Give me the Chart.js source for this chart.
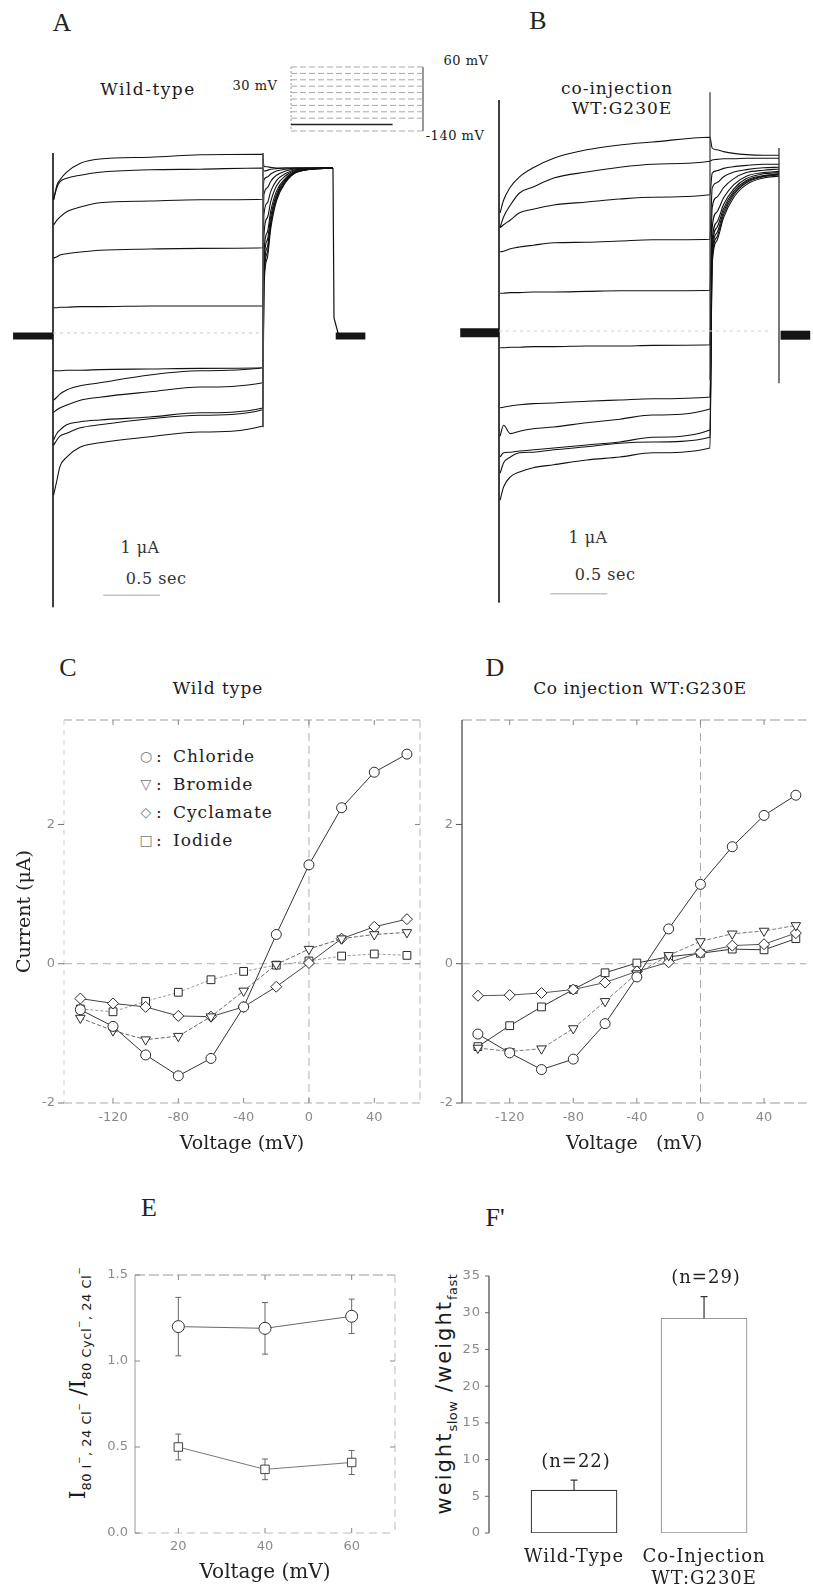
<!DOCTYPE html>
<html><head><meta charset="utf-8">
<script src="https://cdn.jsdelivr.net/npm/chart.js@4.4.1/dist/chart.umd.min.js"></script>
<style>
html,body{margin:0;padding:0;background:#fff}
body{position:relative;width:813px;height:1591px;overflow:hidden}
canvas{position:absolute}
.t{position:absolute;transform:translate(-50%,-50%);white-space:nowrap;font-family:"DejaVu Serif",serif;color:#1a1a1a;line-height:1}
.pl{font-family:"Liberation Serif",serif;font-size:26px;color:#222}
.ti{font-size:17px;letter-spacing:1px}
.sm{font-size:13px;letter-spacing:0.5px}
.sc{font-size:16px;letter-spacing:0.5px;color:#333}
.lg{position:absolute;transform:translateY(-50%);white-space:nowrap;font-family:"DejaVu Serif",serif;font-size:17px;letter-spacing:1px;color:#222;line-height:1}
.sym{position:absolute;transform:translate(-50%,-50%);font-family:"DejaVu Sans",sans-serif;font-size:14px;color:#777;line-height:1}
.rot{transform:translate(-50%,-50%) rotate(-90deg)}
.sb{font-family:"DejaVu Sans",sans-serif;font-size:13px;vertical-align:-6px;letter-spacing:0.5px}
.sb sup{font-size:9px;vertical-align:9px}
</style></head><body>

<div class="t pl" style="left:62px;top:23px">A</div>
<div class="t pl" style="left:538px;top:21px">B</div>
<div class="t ti" style="left:148px;top:89px;letter-spacing:1.5px">Wild-type</div>
<div class="t sm" style="left:255px;top:85px">30 mV</div>
<div class="t sm" style="left:466px;top:60px">60 mV</div>
<div class="t sm" style="left:455px;top:135px">-140 mV</div>
<div class="t ti" style="left:617px;top:88px">co-injection</div>
<div class="t ti" style="left:622px;top:108px">WT:G230E</div>
<div class="t sc" style="left:140px;top:548px">1 μA</div>
<div class="t sc" style="left:156px;top:579px">0.5 sec</div>
<div class="t sc" style="left:588px;top:538px">1 μA</div>
<div class="t sc" style="left:605px;top:575px">0.5 sec</div>

<div class="t pl" style="left:68px;top:668px">C</div>
<div class="t ti" style="left:218px;top:688px">Wild type</div>
<div class="t pl" style="left:495px;top:668px">D</div>
<div class="t ti" style="left:640px;top:688px;letter-spacing:0.6px">Co injection WT:G230E</div>

<div class="sym" style="left:146px;top:756px">○</div><div class="lg" style="left:156px;top:756px">:</div><div class="lg" style="left:173px;top:756px">Chloride</div>
<div class="sym" style="left:146px;top:784px">▽</div><div class="lg" style="left:156px;top:784px">:</div><div class="lg" style="left:173px;top:784px">Bromide</div>
<div class="sym" style="left:146px;top:812px">◇</div><div class="lg" style="left:156px;top:812px">:</div><div class="lg" style="left:173px;top:812px">Cyclamate</div>
<div class="sym" style="left:146px;top:840px">□</div><div class="lg" style="left:156px;top:840px">:</div><div class="lg" style="left:173px;top:840px">Iodide</div>

<div class="t pl" style="left:149px;top:1208px">E</div>
<div class="t pl" style="left:495px;top:1218px">F'</div>
<div class="t rot" style="left:80px;top:1383px;font-size:22px">I<span class="sb">80 I<sup>−</sup>, 24 Cl<sup>−</sup></span> /I<span class="sb">80 Cycl<sup>−</sup>, 24 Cl<sup>−</sup></span></div>
<div class="t rot" style="left:446px;top:1394px;font-size:21px;letter-spacing:2px;font-family:'DejaVu Sans',sans-serif">weight<span class="sb">slow</span> /weight<span class="sb">fast</span></div>

<script>
// ================= DATA =================
// Panels A/B: voltage steps (mV) of the family of current traces
const stepVoltages = [60, 40, 20, 0, -20, -40, -60, -80, -100, -120, -140];

// Panel A (wild-type): time (s) and current (µA)
const wtPulseTimes = [0.005, 0.035, 0.06, 0.12, 0.24, 0.41, 0.85, 1.29, 1.84];
const wtPulseCurrents = [
  [2.27, 2.52, 2.60, 2.73, 2.88, 2.95, 2.98, 3.02, 3.03],
  [2.27, 2.48, 2.57, 2.63, 2.68, 2.73, 2.77, 2.78, 2.80],
  [1.85, 1.93, 1.98, 2.07, 2.15, 2.22, 2.25, 2.27, 2.28],
  [1.30, 1.32, 1.35, 1.37, 1.40, 1.43, 1.45, 1.46, 1.47],
  [0.47, 0.47, 0.48, 0.48, 0.49, 0.49, 0.50, 0.50, 0.50],
  [-0.58, -0.58, -0.58, -0.57, -0.57, -0.56, -0.55, -0.54, -0.53],
  [-1.07, -1.02, -0.97, -0.90, -0.83, -0.78, -0.65, -0.58, -0.53],
  [-1.27, -1.23, -1.20, -1.15, -1.07, -1.02, -0.93, -0.85, -0.78],
  [-1.73, -1.62, -1.57, -1.48, -1.43, -1.40, -1.35, -1.28, -1.20],
  [-1.82, -1.73, -1.67, -1.62, -1.53, -1.48, -1.38, -1.32, -1.23],
  [-2.65, -2.40, -2.18, -2.02, -1.85, -1.78, -1.68, -1.60, -1.50]
];
const wtTailTimes = [1.85, 1.88, 1.91, 1.96, 2.04, 2.15, 2.456];
const wtTailCurrents = [
  [2.83, 2.82, 2.81, 2.80, 2.80, 2.80, 2.80],
  [2.75, 2.76, 2.78, 2.79, 2.80, 2.80, 2.80],
  [2.60, 2.65, 2.70, 2.75, 2.78, 2.80, 2.80],
  [2.35, 2.47, 2.58, 2.68, 2.75, 2.79, 2.80],
  [2.02, 2.22, 2.41, 2.59, 2.71, 2.78, 2.80],
  [1.68, 1.97, 2.24, 2.50, 2.67, 2.77, 2.80],
  [1.35, 1.73, 2.08, 2.41, 2.63, 2.76, 2.80],
  [1.18, 1.60, 1.99, 2.36, 2.61, 2.75, 2.80],
  [1.02, 1.48, 1.91, 2.32, 2.59, 2.75, 2.80],
  [0.90, 1.39, 1.85, 2.29, 2.57, 2.74, 2.80],
  [0.77, 1.30, 1.79, 2.25, 2.56, 2.74, 2.80]
];
const wtHoldTimes = [-0.35, 0];
const wtPostTimes = [2.48, 2.74];
const wtOnTransient = [3.05, -4.52];
const wtOffTransient = [3.05, -1.52];
const wtReturnTimes = [2.456, 2.465, 2.5, 2.55];
const wtReturnCurrents = [2.80, 0.30, 0.05, 0];

// Panel B (co-injection WT:G230E)
const coPulseTimes = [0.01, 0.04, 0.10, 0.18, 0.30, 0.48, 0.77, 1.06, 1.35, 1.85];
const coPulseCurrents = [
  [2.02, 2.23, 2.45, 2.62, 2.77, 2.93, 3.07, 3.15, 3.20, 3.28],
  [1.78, 1.95, 2.15, 2.35, 2.45, 2.60, 2.70, 2.78, 2.83, 2.88],
  [1.77, 1.82, 1.90, 2.02, 2.08, 2.15, 2.20, 2.25, 2.28, 2.32],
  [1.37, 1.38, 1.42, 1.45, 1.48, 1.52, 1.53, 1.55, 1.57, 1.58],
  [0.68, 0.68, 0.69, 0.69, 0.70, 0.70, 0.71, 0.72, 0.72, 0.73],
  [-0.23, -0.23, -0.22, -0.22, -0.21, -0.21, -0.20, -0.20, -0.19, -0.18],
  [-1.23, -1.22, -1.20, -1.18, -1.16, -1.15, -1.12, -1.10, -1.08, -1.05],
  [-1.70, -1.52, -1.66, -1.62, -1.58, -1.55, -1.48, -1.42, -1.35, -1.25],
  [-2.05, -1.98, -1.97, -1.95, -1.93, -1.90, -1.85, -1.80, -1.72, -1.60],
  [-2.32, -2.15, -2.05, -1.98, -1.97, -1.93, -1.88, -1.82, -1.80, -1.72],
  [-2.77, -2.55, -2.38, -2.30, -2.23, -2.18, -2.10, -2.05, -1.98, -1.90]
];
const coTailTimes = [1.87, 1.91, 1.97, 2.06, 2.17, 2.32, 2.456];
const coTailCurrents = [
  [3.10, 3.07, 3.04, 3.01, 2.99, 2.98, 2.98],
  [2.90, 2.91, 2.92, 2.92, 2.93, 2.93, 2.93],
  [2.68, 2.72, 2.76, 2.79, 2.81, 2.83, 2.83],
  [2.43, 2.52, 2.62, 2.70, 2.74, 2.77, 2.78],
  [2.10, 2.28, 2.44, 2.59, 2.69, 2.73, 2.75],
  [1.77, 2.03, 2.27, 2.49, 2.63, 2.69, 2.71],
  [1.55, 1.86, 2.16, 2.42, 2.59, 2.67, 2.69],
  [1.43, 1.77, 2.09, 2.38, 2.56, 2.64, 2.67],
  [1.32, 1.68, 2.04, 2.35, 2.54, 2.63, 2.66],
  [1.23, 1.61, 1.99, 2.32, 2.52, 2.62, 2.65],
  [1.15, 1.55, 1.94, 2.28, 2.49, 2.60, 2.63]
];
const coHoldTimes = [-0.34, 0];
const coPostTimes = [2.47, 2.73];
const coOnTransient = [3.90, -4.48];
const coOffTransient = [4.03, -0.77];
const coReturnTransient = [3.10, -0.82];
const scaleBarTimes = [0.44, 0.94];

// Voltage protocol inset (mV)
const protocolLevels = [60, 40, 20, 0, -20, -40, -60, -80, -100, -120, -140];

// Panels C/D: I-V curves (mV, µA)
const ivVoltages = [-140, -120, -100, -80, -60, -40, -20, 0, 20, 40, 60];
const ivTicksX = [-120, -80, -40, 0, 40];
const ivTicksY = [-2, 0, 2];
const wtChloride  = [-0.66, -0.90, -1.31, -1.61, -1.36, -0.62, 0.42, 1.42, 2.24, 2.75, 3.01];
const wtBromide   = [-0.78, -0.96, -1.09, -1.04, -0.76, -0.39, -0.01, 0.21, 0.36, 0.42, 0.45];
const wtCyclamate = [-0.50, -0.57, -0.62, -0.75, -0.76, -0.62, -0.33, 0.01, 0.36, 0.53, 0.64];
const wtIodide    = [-0.65, -0.69, -0.54, -0.41, -0.23, -0.11, -0.02, 0.04, 0.11, 0.14, 0.12];
const coChloride  = [-1.01, -1.28, -1.52, -1.37, -0.86, -0.19, 0.50, 1.14, 1.68, 2.13, 2.42];
const coBromide   = [-1.21, -1.26, -1.22, -0.93, -0.54, -0.14, 0.12, 0.32, 0.43, 0.47, 0.55];
const coCyclamate = [-0.46, -0.45, -0.42, -0.37, -0.27, -0.11, 0.02, 0.16, 0.26, 0.28, 0.44];
const coIodide    = [-1.19, -0.89, -0.62, -0.37, -0.13, 0.01, 0.10, 0.15, 0.21, 0.20, 0.36];

// Panel E: current ratios
const ratioVoltages = [20, 40, 60];
const ratioChloride = [1.20, 1.19, 1.26];
const ratioChlorideErr = [0.17, 0.15, 0.10];
const ratioIodide = [0.50, 0.37, 0.41];
const ratioIodideErr = [0.075, 0.06, 0.07];
const ratioTicksY = [0, 0.5, 1.0, 1.5];

// Panel F: weight ratio
const groupIndex = [1, 2];
const groupLabels = [['Wild-Type'], ['Co-Injection', 'WT:G230E']];
const weightRatio = [5.85, 29.25];
const weightRatioErr = [1.35, 2.95];
const groupN = ['(n=22)', '(n=29)'];
const weightTicks = [0, 5, 10, 15, 20, 25, 30, 35];

// ================= SETUP =================
const SERIF = '"DejaVu Serif", serif';
const SANS = '"DejaVu Sans", "Liberation Sans", sans-serif';
Chart.defaults.animation = false;
Chart.defaults.responsive = false;
Chart.defaults.maintainAspectRatio = false;
Chart.defaults.devicePixelRatio = 1;
Chart.defaults.plugins.legend.display = false;
Chart.defaults.plugins.tooltip.enabled = false;
Chart.defaults.font.family = SANS;

function mkCanvas(left, top, w, h) {
  const c = document.createElement('canvas');
  c.width = w; c.height = h;
  Object.assign(c.style, {left: left + 'px', top: top + 'px', width: w + 'px', height: h + 'px'});
  document.body.appendChild(c);
  return c;
}

const framePlugin = {
  id: 'frame',
  beforeDraw(chart, args, o) {
    if (o && o.letterSpacing) chart.ctx.letterSpacing = o.letterSpacing;
  },
  beforeDatasetsDraw(chart, args, o) {
    if (!o || !o.sides) return;
    const {ctx, chartArea: a} = chart;
    const xs = chart.scales.x, ys = chart.scales.y;
    ctx.save();
    const line = (x1, y1, x2, y2, st) => {
      ctx.beginPath(); ctx.strokeStyle = st.color; ctx.lineWidth = st.width || 1;
      ctx.setLineDash(st.dash || []); ctx.moveTo(x1, y1); ctx.lineTo(x2, y2); ctx.stroke();
    };
    const s = o.sides;
    if (s.top) line(a.left, a.top, a.right, a.top, s.top);
    if (s.bottom) line(a.left, a.bottom, a.right, a.bottom, s.bottom);
    if (s.left) line(a.left, a.top, a.left, a.bottom, s.left);
    if (s.right) line(a.right, a.top, a.right, a.bottom, s.right);
    if (o.zeroX) { const p = xs.getPixelForValue(0); line(p, a.top, p, a.bottom, o.zeroX); }
    if (o.zeroY) { const p = ys.getPixelForValue(0); line(a.left, p, a.right, p, o.zeroY); }
    (o.ticks || []).forEach(t => t.values.forEach(v => {
      if (t.edge === 'left') { const p = ys.getPixelForValue(v); line(a.left, p, a.left + t.len, p, t); }
      if (t.edge === 'right') { const p = ys.getPixelForValue(v); line(a.right, p, a.right - t.len, p, t); }
      if (t.edge === 'top') { const p = xs.getPixelForValue(v); line(p, a.top, p, a.top + t.len, t); }
      if (t.edge === 'bottom') { const p = xs.getPixelForValue(v); line(p, a.bottom, p, a.bottom - t.len, t); }
    }));
    ctx.restore();
  }
};

function drawErr(chart, after) {
  const ys = chart.scales.y, ctx = chart.ctx;
  chart.data.datasets.forEach((ds, i) => {
    if (!ds.errors || (!!ds.errAfter) !== after) return;
    const meta = chart.getDatasetMeta(i);
    ctx.save();
    ctx.strokeStyle = ds.errColor || '#555'; ctx.lineWidth = ds.errWidth || 1; ctx.setLineDash([]);
    meta.data.forEach((el, j) => {
      const v = ds.data[j].y, e = ds.errors[j];
      const top = ys.getPixelForValue(v + e);
      const bot = ys.getPixelForValue(ds.errUpOnly ? v : v - e);
      const c = ds.errCap || 3;
      ctx.beginPath();
      ctx.moveTo(el.x, top); ctx.lineTo(el.x, bot);
      ctx.moveTo(el.x - c, top); ctx.lineTo(el.x + c, top);
      if (!ds.errUpOnly) { ctx.moveTo(el.x - c, bot); ctx.lineTo(el.x + c, bot); }
      ctx.stroke();
    });
    ctx.restore();
  });
}
const errPlugin = {
  id: 'errbars',
  beforeDatasetsDraw(chart) { drawErr(chart, false); },
  afterDatasetsDraw(chart) { drawErr(chart, true); }
};

const nLabelPlugin = {
  id: 'nlabels',
  afterDatasetsDraw(chart, args, o) {
    if (!o || !o.labels) return;
    const ctx = chart.ctx, ds = chart.data.datasets[0], meta = chart.getDatasetMeta(0), ys = chart.scales.y;
    ctx.save();
    ctx.font = o.font; ctx.fillStyle = o.color; ctx.textAlign = 'center'; ctx.textBaseline = 'middle';
    meta.data.forEach((el, j) => {
      const v = ds.data[j].y + (ds.errors ? ds.errors[j] : 0);
      ctx.fillText(o.labels[j], el.x + (o.dx || 0), ys.getPixelForValue(v) - o.offset);
    });
    ctx.restore();
  }
};
Chart.register(framePlugin, errPlugin, nLabelPlugin);

// ================= PANELS A / B =================
function seg(xs, ys, color, width, dash) {
  return {data: xs.map((x, i) => ({x, y: ys[i]})), showLine: true, borderColor: color,
          borderWidth: width, borderDash: dash || [], pointRadius: 0, tension: 0};
}
function traceSets(pT, pI, tT, tI) {
  return pI.map((row, i) => ({
    label: stepVoltages[i] + ' mV',
    data: pT.map((t, j) => ({x: t, y: row[j]})).concat(tT.map((t, j) => ({x: t, y: tI[i][j]}))),
    showLine: true, borderColor: '#111', borderWidth: 1.1, pointRadius: 0,
    cubicInterpolationMode: 'monotone'
  }));
}
function traceChart(canvas, xr, yr, datasets) {
  return new Chart(canvas, {
    type: 'scatter', data: {datasets},
    options: {
      layout: {padding: 0},
      scales: {x: {type: 'linear', display: false, min: xr[0], max: xr[1]},
               y: {type: 'linear', display: false, min: yr[0], max: yr[1]}}
    }
  });
}

traceChart(mkCanvas(0, 80, 410, 540), [-0.4649, 3.1316], [-4.7333, 4.2667], [
  seg(wtHoldTimes, [0, 0], '#151515', 7),
  seg([0, 1.84], [0.05, 0.05], '#c8c8c8', 1, [3, 4]),
  seg([0, 0], wtOnTransient, '#111', 1.6),
  seg([1.842, 1.842], wtOffTransient, '#555', 1),
  seg(wtReturnTimes, wtReturnCurrents, '#111', 1.2),
  seg(wtPostTimes, [0, 0], '#151515', 7),
  seg(scaleBarTimes, [-4.32, -4.32], '#c4c4c4', 1.5),
  ...traceSets(wtPulseTimes, wtPulseCurrents, wtTailTimes, wtTailCurrents)
]);

traceChart(mkCanvas(410, 80, 403, 540), [-0.7807, 2.7544], [-4.7667, 4.2333], [
  seg(coHoldTimes, [0.02, 0.02], '#151515', 9),
  seg([0, 2.4], [0.05, 0.05], '#cfcfcf', 1, [3, 4]),
  seg([0, 0], coOnTransient, '#111', 1.6),
  seg([1.851, 1.851], coOffTransient, '#333', 1.2),
  seg([2.456, 2.456], coReturnTransient, '#222', 1.2),
  seg(coPostTimes, [-0.02, -0.02], '#151515', 9),
  seg([0.45, 0.95], [-4.33, -4.33], '#c4c4c4', 1.5),
  ...traceSets(coPulseTimes, coPulseCurrents, coTailTimes, coTailCurrents)
]);

// Voltage protocol inset
new Chart(mkCanvas(288, 60, 140, 78), {
  type: 'scatter',
  data: {datasets: [
    ...protocolLevels.map((v, i) => seg([0, 1], [v, v], i === 9 ? 'rgba(0,0,0,0)' : '#a8a8a8', 1, [6, 3])),
    seg([0, 0.77], [-120, -120], '#222', 1.5),
    seg([0, 0], [60, -140], '#999', 1, [2, 2]),
    seg([1, 1], [60, -140], '#888', 1)
  ]},
  options: {layout: {padding: 0},
    scales: {x: {type: 'linear', display: false, min: -0.0227, max: 1.0379},
             y: {type: 'linear', display: false, min: -161.9, max: 81.9}}}
});

// ================= PANELS C / D =================
function ivChart(canvas, cfg) {
  const series = [
    {data: cfg.series[0], style: 'circle', r: 5, rot: 0, color: cfg.colors[0], dash: cfg.dashes[0]},
    {data: cfg.series[1], style: 'triangle', r: 5.5, rot: 180, color: cfg.colors[1], dash: cfg.dashes[1]},
    {data: cfg.series[2], style: 'rectRot', r: 5.5, rot: 0, color: cfg.colors[2], dash: cfg.dashes[2]},
    {data: cfg.series[3], style: 'rect', r: 5.5, rot: 0, color: cfg.colors[3], dash: cfg.dashes[3]}
  ];
  return new Chart(canvas, {
    type: 'scatter',
    data: {datasets: series.map((s, k) => ({
      label: cfg.names[k],
      data: ivVoltages.map((v, i) => ({x: v, y: s.data[i]})),
      showLine: true, borderColor: s.color, borderWidth: 1, borderDash: s.dash,
      pointStyle: s.style, pointRadius: s.r, pointRotation: s.rot,
      pointBackgroundColor: '#fff', pointBorderColor: '#2a2a2a', pointBorderWidth: 1
    }))},
    options: {
      layout: {padding: cfg.padding},
      scales: {
        x: {type: 'linear', min: cfg.xmin, max: cfg.xmax,
          afterBuildTicks: s => { s.ticks = ivTicksX.map(v => ({value: v})); },
          afterFit: s => { s.height = 57; },
          grid: {display: false, drawTicks: false}, border: {display: false},
          ticks: {color: '#8a8a8a', font: {size: 13}, padding: 7},
          title: {display: true, text: cfg.xtitle, color: '#222', font: {family: SERIF, size: 19}, padding: {top: 0, bottom: 5}}},
        y: {type: 'linear', min: -2, max: 3.5,
          afterBuildTicks: s => { s.ticks = ivTicksY.map(v => ({value: v})); },
          afterFit: s => { s.width = cfg.yw; },
          grid: {display: false, drawTicks: false}, border: {display: false},
          ticks: {color: '#8a8a8a', font: {size: 13}, padding: 9},
          title: {display: !!cfg.ytitle, text: cfg.ytitle || '', color: '#222', font: {family: SERIF, size: 19}, padding: {top: 14, bottom: 0}}}
      },
      plugins: {frame: cfg.frame}
    }
  });
}

const ivNames = ['Chloride', 'Bromide', 'Cyclamate', 'Iodide'];
ivChart(mkCanvas(0, 640, 430, 520), {
  names: ivNames,
  series: [wtChloride, wtBromide, wtCyclamate, wtIodide],
  colors: ['#333', '#666', '#444', '#9a9a9a'],
  dashes: [[], [4, 2], [], [3, 2]],
  padding: {top: 80, right: 10, left: 0, bottom: 0},
  xmin: -150, xmax: 68, yw: 64,
  xtitle: 'Voltage (mV)', ytitle: 'Current (μA)',
  frame: {
    sides: {top: {color: '#a0a0a0', dash: [8, 4]}, right: {color: '#bdbdbd', dash: [8, 4]},
            left: {color: '#d0d0d0', dash: [5, 5]}, bottom: {color: '#aaa', dash: [8, 4]}},
    zeroX: {color: '#b0b0b0', dash: [8, 5]}, zeroY: {color: '#b0b0b0', dash: [8, 5]},
    ticks: [{edge: 'left', values: ivTicksY, len: -6, color: '#777'},
            {edge: 'top', values: ivTicksX, len: 5, color: '#888'},
            {edge: 'bottom', values: ivTicksX, len: 5, color: '#888'},
            {edge: 'right', values: [0, 2], len: 5, color: '#888'}]
  }
});

ivChart(mkCanvas(420, 640, 393, 520), {
  names: ivNames,
  series: [coChloride, coBromide, coCyclamate, coIodide],
  colors: ['#333', '#777', '#555', '#333'],
  dashes: [[], [4, 2], [], []],
  padding: {top: 80, right: 0, left: 0, bottom: 0},
  xmin: -150, xmax: 66.7, yw: 42,
  xtitle: 'Voltage   (mV)',
  frame: {
    sides: {top: {color: '#999', dash: [10, 4]}, left: {color: '#666', width: 1.5}, bottom: {color: '#999', dash: [10, 4]}},
    zeroX: {color: '#aaa', dash: [8, 5]}, zeroY: {color: '#aaa', dash: [8, 5]},
    ticks: [{edge: 'left', values: ivTicksY, len: -6, color: '#555'},
            {edge: 'top', values: ivTicksX, len: 5, color: '#888'},
            {edge: 'bottom', values: ivTicksX, len: 5, color: '#888'}]
  }
});

// ================= PANEL E =================
new Chart(mkCanvas(0, 1250, 420, 341), {
  type: 'scatter',
  data: {datasets: [
    {label: 'Chloride/Cyclamate', data: ratioVoltages.map((v, i) => ({x: v, y: ratioChloride[i]})),
     errors: ratioChlorideErr, errCap: 3, errColor: '#666',
     showLine: true, borderColor: '#666', borderWidth: 1, pointStyle: 'circle', pointRadius: 6,
     pointBackgroundColor: '#fff', pointBorderColor: '#333', pointBorderWidth: 1},
    {label: 'Iodide/Cyclamate', data: ratioVoltages.map((v, i) => ({x: v, y: ratioIodide[i]})),
     errors: ratioIodideErr, errCap: 3, errColor: '#666',
     showLine: true, borderColor: '#777', borderWidth: 1, pointStyle: 'rect', pointRadius: 6,
     pointBackgroundColor: '#fff', pointBorderColor: '#444', pointBorderWidth: 1}
  ]},
  options: {
    layout: {padding: {top: 25, right: 25, left: 0, bottom: 0}},
    scales: {
      x: {type: 'linear', min: 10, max: 70,
        afterBuildTicks: s => { s.ticks = ratioVoltages.map(v => ({value: v})); },
        afterFit: s => { s.height = 58; },
        grid: {display: false, drawTicks: false}, border: {display: false},
        ticks: {color: '#8a8a8a', font: {size: 13}, padding: 6},
        title: {display: true, text: 'Voltage (mV)', color: '#222', font: {family: SERIF, size: 20}, padding: {top: 0, bottom: 6}}},
      y: {type: 'linear', min: 0, max: 1.5,
        afterBuildTicks: s => { s.ticks = ratioTicksY.map(v => ({value: v})); },
        afterFit: s => { s.width = 135; },
        grid: {display: false, drawTicks: false}, border: {display: false},
        ticks: {color: '#8a8a8a', font: {size: 13}, padding: 7, callback: v => v.toFixed(1)}}
    },
    plugins: {frame: {
      sides: {top: {color: '#999', dash: [10, 4]}, left: {color: '#999'}, right: {color: '#bbb', dash: [8, 5]}, bottom: {color: '#bbb', dash: [8, 5]}},
      ticks: [{edge: 'left', values: ratioTicksY, len: 5, color: '#888'},
              {edge: 'top', values: ratioVoltages, len: 5, color: '#888'},
              {edge: 'bottom', values: ratioVoltages, len: 5, color: '#888'},
              {edge: 'right', values: [0.5, 1.0], len: 5, color: '#888'}]
    }}
  }
});

// ================= PANEL F =================
new Chart(mkCanvas(420, 1250, 393, 341), {
  type: 'bar',
  data: {datasets: [{
    label: 'weight ratio',
    data: groupIndex.map((x, i) => ({x, y: weightRatio[i]})),
    errors: weightRatioErr, errUpOnly: true, errAfter: true, errCap: 3.5, errColor: '#333', errWidth: 1.2,
    backgroundColor: '#fff', borderColor: ['#333', '#999'], borderWidth: 1.2, borderSkipped: false,
    barThickness: 86
  }]},
  options: {
    layout: {padding: {top: 26, right: 0, left: 0, bottom: 0}},
    scales: {
      x: {type: 'linear', min: 0.346, max: 2.838, offset: false,
        afterBuildTicks: s => { s.ticks = groupIndex.map(v => ({value: v})); },
        afterFit: s => { s.height = 58; },
        grid: {display: false, drawTicks: false}, border: {display: false},
        ticks: {color: '#222', font: {family: SERIF, size: 18, lineHeight: 1.2}, padding: 14,
                callback: v => groupLabels[groupIndex.indexOf(v)]}},
      y: {type: 'linear', min: 0, max: 35,
        afterBuildTicks: s => { s.ticks = weightTicks.map(v => ({value: v})); },
        afterFit: s => { s.width = 69; },
        grid: {display: false, drawTicks: false}, border: {display: false},
        ticks: {color: '#8a8a8a', font: {size: 13}, padding: 8}}
    },
    plugins: {
      frame: {letterSpacing: '1px', sides: {left: {color: '#444', width: 1.2}},
              ticks: [{edge: 'left', values: weightTicks, len: -4, color: '#666'}]},
      nlabels: {labels: groupN, font: '18px "DejaVu Serif", serif', color: '#222', offset: 18, dx: 2}
    }
  }
});
</script>
</body></html>
